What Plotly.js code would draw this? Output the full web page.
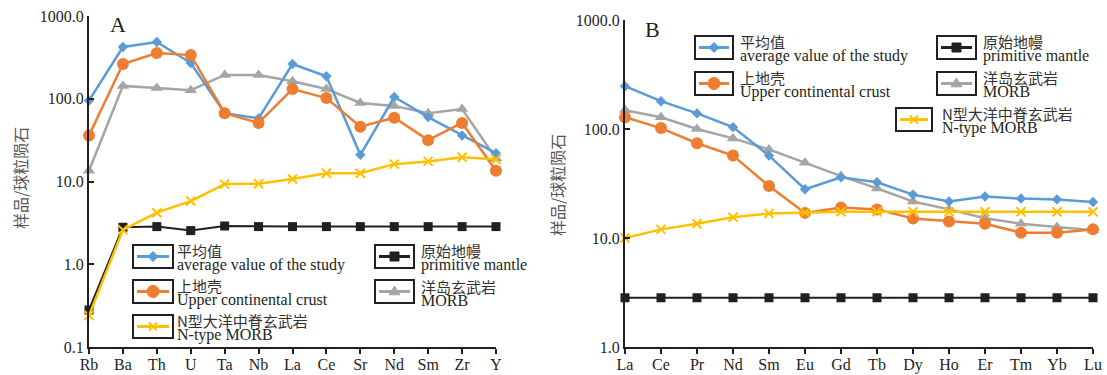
<!DOCTYPE html>
<html>
<head>
<meta charset="utf-8">
<script src="https://cdn.plot.ly/plotly-3.0.1.min.js"></script>
<style>html,body{margin:0;padding:0;background:#fff;}#chart{width:1107px;height:375px;}</style>
</head>
<body>
<div id="chart"></div>
<script>
// ---------- data ----------
const traceElems = ['Rb','Ba','Th','U','Ta','Nb','La','Ce','Sr','Nd','Sm','Zr','Y'];
const avgA   = [95, 422, 485, 270, 67, 58, 263, 187, 21, 105, 60, 36, 22];
const uccA   = [36, 263, 357, 337, 67, 51, 131, 102, 46, 59, 31.6, 51, 13.5];
const oibA   = [13.5, 143, 135, 127, 194, 194, 163, 131, 89, 82, 67, 75, 19];
const nmorbA = [0.24, 2.6, 4.2, 5.8, 9.3, 9.4, 10.7, 12.6, 12.6, 16.2, 17.5, 19.6, 18.6];
const pmA    = [0.28, 2.8, 2.85, 2.55, 2.9, 2.85, 2.85, 2.85, 2.85, 2.85, 2.85, 2.85, 2.85];

const reeElems = ['La','Ce','Pr','Nd','Sm','Eu','Gd','Tb','Dy','Ho','Er','Tm','Yb','Lu'];
const avgB   = [247, 180, 139, 104, 57, 28, 36, 32.5, 25, 21.6, 24, 23, 22.6, 21.4];
const uccB   = [128, 102, 74, 57, 30, 17, 19, 18.3, 15.1, 14.2, 13.5, 11.2, 11.2, 12.0];
const oibB   = [149, 128, 100, 82, 65, 49, 37, 28.5, 21.6, 18.3, 15.2, 13.5, 12.6, 11.8];
const nmorbB = [10, 12.0, 13.5, 15.5, 16.8, 17.1, 17.4, 17.4, 17.4, 17.4, 17.4, 17.4, 17.4, 17.4];
const pmB    = [2.83, 2.83, 2.83, 2.83, 2.83, 2.83, 2.83, 2.83, 2.83, 2.83, 2.83, 2.83, 2.83, 2.83];

const tickValsA = [0.1, 1, 10, 100, 1000];
const tickTextA = ['0.1', '1.0', '10.0', '100.0', '1000.0'];
const tickValsB = [1, 10, 100, 1000];
const tickTextB = ['1.0', '10.0', '100.0', '1000.0'];

const seriesNames = {
  avg:   ['平均值', 'average value of the study'],
  ucc:   ['上地壳', 'Upper continental crust'],
  nmorb: ['N型大洋中脊玄武岩', 'N-type MORB'],
  pm:    ['原始地幔', 'primitive mantle'],
  oib:   ['洋岛玄武岩', 'MORB']
};
const yTitle = '样品/球粒陨石';

// ---------- styles ----------
const W = 1107, H = 375;
const C = {avg:'#5B9BD5', ucc:'#ED7D31', oib:'#A5A5A5', nmorb:'#FFC000', pm:'#231F20'};
const SERIF = '"Liberation Serif", "Times New Roman", serif';
const CJK = '"Noto Sans CJK SC", sans-serif';
const AX = '#231F20';

const style = {
  avg:   {line:{color:C.avg, width:2.5}, marker:{symbol:'diamond', size:8, color:C.avg}},
  ucc:   {line:{color:C.ucc, width:2.5}, marker:{symbol:'circle', size:12, color:C.ucc}},
  oib:   {line:{color:C.oib, width:2.5}, marker:{symbol:'triangle-up', size:11, color:C.oib}},
  nmorb: {line:{color:C.nmorb, width:2.5}, marker:{symbol:'x-thin-open', size:9, color:C.nmorb, line:{color:C.nmorb, width:2}}},
  pm:    {line:{color:C.pm, width:2}, marker:{symbol:'square', size:9, color:C.pm}}
};

function mk(x, y, key, xa, ya) {
  return Object.assign({
    type:'scatter', mode:'lines+markers', x:x, y:y, xaxis:xa, yaxis:ya,
    name:seriesNames[key][1], showlegend:false, cliponaxis:false, hoverinfo:'x+y'
  }, JSON.parse(JSON.stringify(style[key])));
}

const data = [
  mk(traceElems, pmA, 'pm', 'x', 'y'),
  mk(traceElems, oibA, 'oib', 'x', 'y'),
  mk(traceElems, avgA, 'avg', 'x', 'y'),
  mk(traceElems, uccA, 'ucc', 'x', 'y'),
  mk(traceElems, nmorbA, 'nmorb', 'x', 'y'),
  mk(reeElems, pmB, 'pm', 'x2', 'y2'),
  mk(reeElems, oibB, 'oib', 'x2', 'y2'),
  mk(reeElems, avgB, 'avg', 'x2', 'y2'),
  mk(reeElems, uccB, 'ucc', 'x2', 'y2'),
  mk(reeElems, nmorbB, 'nmorb', 'x2', 'y2')
];

// ---------- legend drawing helpers (pixel -> paper) ----------
const px = x => x / W;
const py = y => 1 - y / H;
const shapes = [];
const annotations = [];

function markerShapes(key, cx, cy) {
  const col = C[key];
  const base = {xref:'paper', yref:'paper', fillcolor:col, line:{color:col, width:1}};
  if (key === 'avg') {
    const r = 5;
    shapes.push(Object.assign({type:'path', path:`M${px(cx-r)},${py(cy)} L${px(cx)},${py(cy-r)} L${px(cx+r)},${py(cy)} L${px(cx)},${py(cy+r)} Z`}, base));
  } else if (key === 'ucc') {
    const r = 6;
    shapes.push(Object.assign({type:'circle', x0:px(cx-r), x1:px(cx+r), y0:py(cy+r), y1:py(cy-r)}, base));
  } else if (key === 'pm') {
    const r = 4.5;
    shapes.push(Object.assign({type:'rect', x0:px(cx-r), x1:px(cx+r), y0:py(cy+r), y1:py(cy-r)}, base));
  } else if (key === 'oib') {
    const r = 5.5;
    shapes.push(Object.assign({type:'path', path:`M${px(cx-r)},${py(cy+r*0.6)} L${px(cx+r)},${py(cy+r*0.6)} L${px(cx)},${py(cy-r)} Z`}, base));
  } else if (key === 'nmorb') {
    const r = 4;
    const l = {xref:'paper', yref:'paper', type:'line', line:{color:col, width:2}};
    shapes.push(Object.assign({x0:px(cx-r), x1:px(cx+r), y0:py(cy-r), y1:py(cy+r)}, l));
    shapes.push(Object.assign({x0:px(cx-r), x1:px(cx+r), y0:py(cy+r), y1:py(cy-r)}, l));
  }
}

function legendItem(key, bx0, bx1, btop, tx) {
  const bh = 23;
  const cy = btop + bh / 2;
  shapes.push({type:'rect', xref:'paper', yref:'paper', x0:px(bx0), x1:px(bx1), y0:py(btop+bh), y1:py(btop),
    line:{color:AX, width:2}, fillcolor:'rgba(0,0,0,0)'});
  shapes.push({type:'line', xref:'paper', yref:'paper', x0:px(bx0+4), x1:px(bx1-4), y0:py(cy), y1:py(cy),
    line:{color:C[key], width:3}});
  markerShapes(key, (bx0+bx1)/2, cy);
  const txt = `<span style="font-family:'Noto Sans CJK SC';font-size:15px;fill:#333">${seriesNames[key][0]}</span><br>` +
              `<span style="font-family:'Liberation Serif';font-size:16px">${seriesNames[key][1]}</span>`;
  annotations.push({xref:'paper', yref:'paper', x:px(tx), y:py(btop+12), xanchor:'left', yanchor:'middle',
    align:'left', text:txt, showarrow:false, borderpad:0, font:{family:SERIF, size:10, color:AX}});
}

// Chart A legend
legendItem('avg',   133, 173, 245, 176);
legendItem('ucc',   133, 173, 280, 176);
legendItem('nmorb', 133, 173, 315, 176);
legendItem('pm',    375, 414, 245, 420);
legendItem('oib',   375, 414, 280, 420);
// Chart B legend
legendItem('avg',   695, 733, 36, 739);
legendItem('ucc',   695, 733, 72, 739);
legendItem('pm',    937, 976, 36, 982);
legendItem('oib',   937, 976, 72, 982);
legendItem('nmorb', 896, 932, 108, 941);

// panel letters and y titles
annotations.push({xref:'paper', yref:'paper', x:px(118), y:py(25), text:'A', showarrow:false,
  xanchor:'center', yanchor:'middle', font:{family:SERIF, size:22, color:AX}});
annotations.push({xref:'paper', yref:'paper', x:px(652), y:py(29), text:'B', showarrow:false,
  xanchor:'center', yanchor:'middle', font:{family:SERIF, size:22, color:AX}});
annotations.push({xref:'paper', yref:'paper', x:px(20), y:py(178), text:yTitle, textangle:-90, showarrow:false,
  xanchor:'center', yanchor:'middle', font:{family:CJK, size:16, color:'#555'}});
annotations.push({xref:'paper', yref:'paper', x:px(557), y:py(185), text:yTitle, textangle:-90, showarrow:false,
  xanchor:'center', yanchor:'middle', font:{family:CJK, size:16, color:'#555'}});

const xCommon = {type:'category', showline:true, linecolor:AX, linewidth:2, ticks:'outside', ticklen:5,
  tickwidth:2, tickcolor:AX, showgrid:false, zeroline:false, ticklabelstandoff:-3,
  tickfont:{family:SERIF, size:16, color:AX}, fixedrange:true};
const yCommon = {type:'log', showline:true, linecolor:AX, linewidth:2, ticks:'inside', ticklen:5,
  tickwidth:2, tickcolor:AX, showgrid:false, zeroline:false, tickfont:{family:SERIF, size:16, color:AX}, fixedrange:true};

const layout = {
  width:W, height:H, margin:{l:0, r:0, t:0, b:0},
  paper_bgcolor:'#fff', plot_bgcolor:'rgba(0,0,0,0)', showlegend:false,
  xaxis: Object.assign({}, xCommon, {domain:[px(89), px(496)], range:[0, traceElems.length-1], anchor:'y'}),
  yaxis: Object.assign({}, yCommon, {domain:[py(347), py(16)], range:[-1, 3], tickvals:tickValsA, ticktext:tickTextA, anchor:'x'}),
  xaxis2: Object.assign({}, xCommon, {domain:[px(625), px(1093)], range:[0, reeElems.length-1], anchor:'y2'}),
  yaxis2: Object.assign({}, yCommon, {domain:[py(347), py(20)], range:[0, 3], tickvals:tickValsB, ticktext:tickTextB, anchor:'x2'}),
  shapes: shapes,
  annotations: annotations
};

Plotly.newPlot('chart', data, layout, {displayModeBar:false, staticPlot:true});
</script>
</body>
</html>
